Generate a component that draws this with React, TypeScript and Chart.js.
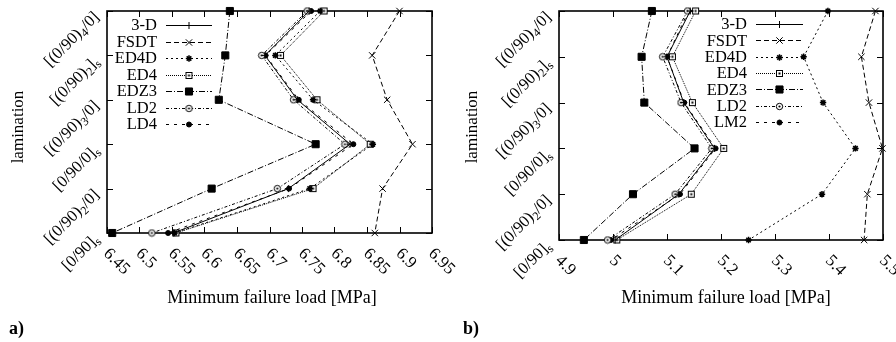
import React, { useEffect, useRef } from "react";
import { Chart, registerables } from "chart.js";
import { drawPoint } from "chart.js/helpers";

Chart.register(...registerables);

// ---------------- DATA ----------------
// laminations, top to bottom
const laminations = ["[(0/90)_4/0]", "[(0/90)_2]_s", "[(0/90)_3/0]", "[0/90/0]_s", "[(0/90)_2/0]", "[0/90]_s"];

const xTicksA = [6.45, 6.5, 6.55, 6.6, 6.65, 6.7, 6.75, 6.8, 6.85, 6.9, 6.95];
const xTickLabelsA = ["6.45", "6.5", "6.55", "6.6", "6.65", "6.7", "6.75", "6.8", "6.85", "6.9", "6.95"];
const xTicksB = [4.9, 5.0, 5.1, 5.2, 5.3, 5.4, 5.5];
const xTickLabelsB = ["4.9", "5", "5.1", "5.2", "5.3", "5.4", "5.5"];

const seriesNamesA = ["3-D", "FSDT", "ED4D", "ED4", "EDZ3", "LD2", "LD4"];
const seriesNamesB = ["3-D", "FSDT", "ED4D", "ED4", "EDZ3", "LD2", "LM2"];

// panel a) values per lamination (top to bottom)
const a3D = [6.761, 6.693, 6.743, 6.824, 6.729, 6.552];
const aFSDT = [6.9, 6.858, 6.881, 6.92, 6.874, 6.862];
const aED4D = [6.778, 6.709, 6.767, 6.859, 6.762, 6.554];
const aED4 = [6.784, 6.717, 6.773, 6.855, 6.767, 6.556];
const aEDZ3 = [6.639, 6.632, 6.622, 6.771, 6.611, 6.458];
const aLD2 = [6.758, 6.688, 6.737, 6.816, 6.712, 6.519];
const aLD4 = [6.764, 6.694, 6.745, 6.829, 6.73, 6.544];

// panel b) values per lamination (top to bottom)
const b3D = [5.143, 5.1, 5.131, 5.188, 5.122, 5.004];
const bFSDT = [5.486, 5.46, 5.474, 5.499, 5.471, 5.465];
const bED4D = [5.398, 5.353, 5.389, 5.449, 5.387, 5.251];
const bED4 = [5.153, 5.11, 5.147, 5.205, 5.145, 5.007];
const bEDZ3 = [5.072, 5.053, 5.058, 5.151, 5.037, 4.946];
const bLD2 = [5.138, 5.092, 5.126, 5.183, 5.115, 4.99];
const bLM2 = [5.14, 5.1, 5.132, 5.19, 5.124, 4.996];

// ---------------- STYLES ----------------
const FONT = '"Liberation Serif", "Times New Roman", serif';

function makeSquareDot(): HTMLCanvasElement {
  const c = document.createElement("canvas");
  c.width = 9;
  c.height = 9;
  const g = c.getContext("2d")!;
  g.fillStyle = "#fff";
  g.fillRect(1.5, 1.5, 6, 6);
  g.strokeStyle = "#000";
  g.lineWidth = 1;
  g.strokeRect(1.5, 1.5, 6, 6);
  g.fillStyle = "#000";
  g.fillRect(3.5, 3.5, 2, 2);
  return c;
}

function makeCircleDot(): HTMLCanvasElement {
  const c = document.createElement("canvas");
  c.width = 9;
  c.height = 9;
  const g = c.getContext("2d")!;
  g.beginPath();
  g.arc(4.5, 4.5, 3.2, 0, Math.PI * 2);
  g.fillStyle = "#fff";
  g.fill();
  g.strokeStyle = "#000";
  g.lineWidth = 1;
  g.stroke();
  g.beginPath();
  g.arc(4.5, 4.5, 1.1, 0, Math.PI * 2);
  g.fillStyle = "#000";
  g.fill();
  return c;
}

function makeStyles() {
  const sq = makeSquareDot();
  const ci = makeCircleDot();
  return [
    { dash: [], point: "cross", r: 3.5, pbw: 1, fill: "#000" },
    { dash: [5, 3], point: "crossRot", r: 4.5, pbw: 1, fill: "#000" },
    { dash: [2, 3], point: "star", r: 3.2, pbw: 1.5, fill: "#000" },
    { dash: [1, 1], point: sq, r: 4, pbw: 1, fill: "#fff" },
    { dash: [6, 2, 1, 2], point: "rect", r: 5, pbw: 1, fill: "#000" },
    { dash: [3, 2, 1, 2], point: ci, r: 3, pbw: 1, fill: "#fff" },
    { dash: [3, 5], point: "circle", r: 2.5, pbw: 1, fill: "#000" },
  ];
}

function drawRich(ctx: CanvasRenderingContext2D, text: string, size: number) {
  const segs: { t: string; sub: boolean; w: number }[] = [];
  let cur = "";
  for (let i = 0; i < text.length; i++) {
    if (text[i] === "_") {
      if (cur) segs.push({ t: cur, sub: false, w: 0 });
      cur = "";
      segs.push({ t: text[i + 1], sub: true, w: 0 });
      i++;
    } else cur += text[i];
  }
  if (cur) segs.push({ t: cur, sub: false, w: 0 });
  const nf = `${size}px ${FONT}`;
  const sf = `${Math.round(size * 0.7)}px ${FONT}`;
  let total = 0;
  segs.forEach((s) => {
    ctx.font = s.sub ? sf : nf;
    s.w = ctx.measureText(s.t).width;
    total += s.w;
  });
  let x = -total;
  ctx.textAlign = "left";
  ctx.textBaseline = "alphabetic";
  segs.forEach((s) => {
    ctx.font = s.sub ? sf : nf;
    ctx.fillText(s.t, x, s.sub ? 9 : 5.5);
    x += s.w;
  });
}

type Spec = {
  names: string[];
  values: number[][];
  xTicks: number[];
  xTickLabels: string[];
  min: number;
  max: number;
  width: number;
  padding: { left: number; right: number; top: number; bottom: number };
  legend: { textRight: number; x0: number; x1: number; y0: number; dy: number };
  yTitleX: number;
  yTitleY: number;
  xTitleX: number;
  xTitleY: number;
  tag: string;
  tagX: number;
};

function buildChart(canvas: HTMLCanvasElement, spec: Spec) {
  const styles = makeStyles();
  const datasets = spec.names.map((name, i) => {
    const st = styles[i];
    return {
      label: name,
      data: spec.values[i],
      borderColor: "#000",
      backgroundColor: "#000",
      borderWidth: 1,
      borderDash: st.dash,
      pointStyle: st.point as any,
      pointRadius: st.r,
      pointBorderWidth: st.pbw,
      pointBackgroundColor: st.fill,
      pointBorderColor: "#000",
      fill: false,
      tension: 0,
      clip: false as any,
    };
  });

  const deco = {
    id: "deco",
    beforeDatasetsDraw(chart: any) {
      const { ctx, chartArea } = chart;
      const { left, top, right, bottom } = chartArea;
      const xs = chart.scales.x;
      const ys = chart.scales.y;
      ctx.save();
      ctx.strokeStyle = "#000";
      ctx.fillStyle = "#000";
      ctx.lineWidth = 1;
      ctx.setLineDash([]);
      ctx.beginPath();
      spec.xTicks.forEach((v) => {
        const px = Math.round(xs.getPixelForValue(v)) + 0.5;
        ctx.moveTo(px, bottom);
        ctx.lineTo(px, bottom - 6);
        ctx.moveTo(px, top);
        ctx.lineTo(px, top + 6);
      });
      laminations.forEach((_, i) => {
        const py = Math.round(ys.getPixelForValue(i)) + 0.5;
        ctx.moveTo(left, py);
        ctx.lineTo(left + 6, py);
        ctx.moveTo(right, py);
        ctx.lineTo(right - 6, py);
      });
      ctx.stroke();
      ctx.lineWidth = 1.6;
      ctx.strokeRect(left, top, right - left, bottom - top);

      // x tick labels (rotated clockwise)
      ctx.font = `17px ${FONT}`;
      ctx.textAlign = "left";
      ctx.textBaseline = "middle";
      spec.xTicks.forEach((v, i) => {
        const px = xs.getPixelForValue(v);
        ctx.save();
        ctx.translate(px - 1, bottom + 18);
        ctx.rotate(Math.PI / 4);
        ctx.fillText(spec.xTickLabels[i], 0, 0);
        ctx.restore();
      });

      // y category labels (rotated counter-clockwise)
      laminations.forEach((lab, i) => {
        const py = ys.getPixelForValue(i);
        ctx.save();
        ctx.translate(left - 11, py + 3);
        ctx.rotate(-Math.PI / 4);
        drawRich(ctx, lab, 16.5);
        ctx.restore();
      });

      // titles
      ctx.font = `18px ${FONT}`;
      ctx.textAlign = "center";
      ctx.textBaseline = "alphabetic";
      ctx.fillText("Minimum failure load [MPa]", spec.xTitleX, spec.xTitleY);
      ctx.font = `17px ${FONT}`;
      ctx.save();
      ctx.translate(spec.yTitleX, spec.yTitleY);
      ctx.rotate(-Math.PI / 2);
      ctx.textBaseline = "middle";
      ctx.fillText("lamination", 0, 0);
      ctx.restore();
      ctx.font = `bold 18px ${FONT}`;
      ctx.textAlign = "left";
      ctx.fillText(spec.tag, spec.tagX, 334);
      ctx.restore();
    },
    afterDatasetsDraw(chart: any) {
      const { ctx } = chart;
      const lg = spec.legend;
      ctx.save();
      chart.data.datasets.forEach((ds: any, i: number) => {
        const yy = lg.y0 + i * lg.dy;
        ctx.fillStyle = "#000";
        ctx.font = `16.5px ${FONT}`;
        ctx.textAlign = "right";
        ctx.textBaseline = "middle";
        ctx.fillText(ds.label, lg.textRight, yy + 1);
        ctx.strokeStyle = "#000";
        ctx.lineWidth = 1;
        ctx.setLineDash(ds.borderDash || []);
        ctx.beginPath();
        ctx.moveTo(lg.x0, Math.round(yy) + 0.5);
        ctx.lineTo(lg.x1, Math.round(yy) + 0.5);
        ctx.stroke();
        ctx.setLineDash([]);
        ctx.fillStyle = ds.pointBackgroundColor;
        ctx.lineWidth = ds.pointBorderWidth;
        drawPoint(
          ctx,
          { pointStyle: ds.pointStyle, radius: ds.pointRadius, rotation: 0, borderWidth: ds.pointBorderWidth } as any,
          (lg.x0 + lg.x1) / 2,
          Math.round(yy) + 0.5
        );
      });
      ctx.restore();
    },
  };

  return new Chart(canvas, {
    type: "line",
    data: { labels: laminations, datasets: datasets as any },
    options: {
      indexAxis: "y",
      animation: false,
      responsive: false,
      maintainAspectRatio: false,
      events: [],
      layout: { padding: spec.padding },
      scales: {
        x: { type: "linear", min: spec.min, max: spec.max, display: false },
        y: { type: "category", labels: laminations, display: false, offset: false },
      },
      plugins: { legend: { display: false }, tooltip: { enabled: false } },
    } as any,
    plugins: [deco as any],
  });
}

const specA: Spec = {
  names: seriesNamesA,
  values: [a3D, aFSDT, aED4D, aED4, aEDZ3, aLD2, aLD4],
  xTicks: xTicksA,
  xTickLabels: xTickLabelsA,
  min: 6.45,
  max: 6.95,
  width: 475,
  padding: { left: 107, right: 43, top: 11, bottom: 109 },
  legend: { textRight: 157, x0: 166, x1: 212, y0: 25, dy: 16.5 },
  yTitleX: 19,
  yTitleY: 127,
  xTitleX: 272,
  xTitleY: 303,
  tag: "a)",
  tagX: 9,
};

const specB: Spec = {
  names: seriesNamesB,
  values: [b3D, bFSDT, bED4D, bED4, bEDZ3, bLD2, bLM2],
  xTicks: xTicksB,
  xTickLabels: xTickLabelsB,
  min: 4.9,
  max: 5.5,
  width: 448,
  padding: { left: 111, right: 13, top: 11, bottom: 102 },
  legend: { textRight: 299, x0: 308, x1: 355, y0: 24, dy: 16.3 },
  yTitleX: 25,
  yTitleY: 127,
  xTitleX: 278,
  xTitleY: 303,
  tag: "b)",
  tagX: 15,
};

function Panel({ spec, left }: { spec: Spec; left: number }) {
  const ref = useRef<HTMLCanvasElement>(null);
  useEffect(() => {
    const chart = buildChart(ref.current!, spec);
    return () => chart.destroy();
  }, []);
  return (
    <canvas
      ref={ref}
      width={spec.width}
      height={342}
      style={{ position: "absolute", left, top: 0, width: spec.width, height: 342 }}
    />
  );
}

export default function App() {
  return (
    <div style={{ position: "fixed", left: 0, top: 0, width: 896, height: 342, background: "#fff", overflow: "hidden" }}>
      <Panel spec={specA} left={0} />
      <Panel spec={specB} left={448} />
    </div>
  );
}
